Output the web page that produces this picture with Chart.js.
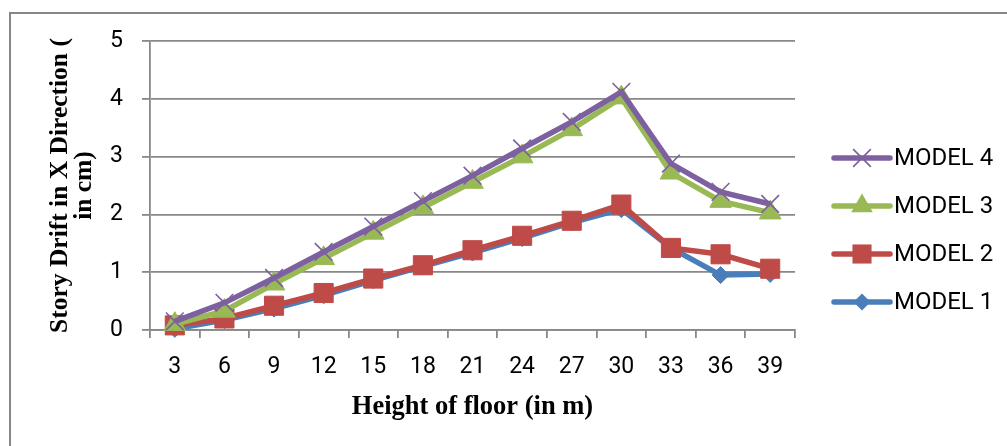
<!DOCTYPE html>
<html>
<head>
<meta charset="utf-8">
<script src="https://cdn.jsdelivr.net/npm/chart.js@4.4.0/dist/chart.umd.min.js"></script>
<style>
  html, body { margin: 0; padding: 0; background: #ffffff; }
  #wrap { width: 1007px; height: 446px; position: relative; }
</style>
</head>
<body>
<div id="wrap"><canvas id="c" width="1007" height="446"></canvas></div>
<script>
const categories = ['3', '6', '9', '12', '15', '18', '21', '24', '27', '30', '33', '36', '39'];
const model1 = [0.02, 0.17, 0.37, 0.60, 0.86, 1.10, 1.34, 1.59, 1.86, 2.09, 1.42, 0.95, 0.97];
const model2 = [0.08, 0.20, 0.42, 0.64, 0.89, 1.12, 1.38, 1.63, 1.89, 2.17, 1.42, 1.31, 1.06];
const model3 = [0.10, 0.33, 0.80, 1.24, 1.68, 2.12, 2.56, 3.00, 3.47, 4.02, 2.72, 2.23, 2.03];
const model4 = [0.15, 0.47, 0.90, 1.35, 1.79, 2.23, 2.67, 3.14, 3.60, 4.12, 2.88, 2.39, 2.18];
const seriesNames = ['MODEL 4', 'MODEL 3', 'MODEL 2', 'MODEL 1'];
const yTitle = ['Story Drift in X Direction (', 'in cm)'];
const xTitle = 'Height of floor (in m)';

const GRID = '#888888';

function ds(label, data, color, style, radius, bw) {
  return {
    label: label, data: data,
    borderColor: color, backgroundColor: color,
    borderWidth: 5.5,
    pointStyle: style, pointRadius: radius, pointHoverRadius: radius,
    pointBackgroundColor: color, pointBorderColor: color, pointBorderWidth: bw,
    tension: 0, clip: false
  };
}

const datasets = [
  ds(seriesNames[0], model4, '#7d60a0', 'crossRot', 12.5, 1.6),
  ds(seriesNames[1], model3, '#98b954', 'triangle', 12.5, 1),
  ds(seriesNames[2], model2, '#be4b48', 'rect', 13.5, 1),
  ds(seriesNames[3], model1, '#4a7ebb', 'rectRot', 8.5, 1)
];

function drawMarker(ctx, style, r, x, y, color, bw) {
  ctx.save();
  ctx.fillStyle = color; ctx.strokeStyle = color; ctx.lineWidth = bw;
  ctx.beginPath();
  if (style === 'crossRot') {
    const o = Math.SQRT1_2 * r;
    ctx.moveTo(x - o, y - o); ctx.lineTo(x + o, y + o);
    ctx.moveTo(x + o, y - o); ctx.lineTo(x - o, y + o);
    ctx.stroke();
  } else if (style === 'triangle') {
    ctx.moveTo(x, y - r);
    ctx.lineTo(x + r * Math.cos(Math.PI / 6), y + r / 2);
    ctx.lineTo(x - r * Math.cos(Math.PI / 6), y + r / 2);
    ctx.closePath(); ctx.fill();
  } else if (style === 'rect') {
    const s = Math.SQRT1_2 * r;
    ctx.rect(x - s, y - s, 2 * s, 2 * s); ctx.fill();
  } else {
    ctx.moveTo(x, y - r); ctx.lineTo(x + r, y); ctx.lineTo(x, y + r); ctx.lineTo(x - r, y);
    ctx.closePath(); ctx.fill();
  }
  ctx.restore();
}

const framePlugin = {
  id: 'frame',
  beforeDraw(chart) {
    const ctx = chart.ctx;
    ctx.save();
    ctx.fillStyle = '#ffffff';
    ctx.fillRect(0, 0, chart.width, chart.height);
    ctx.strokeStyle = '#878787';
    ctx.lineWidth = 2;
    ctx.strokeRect(10, 13, 1200, 1000);
    ctx.restore();
  }
};

const legendPlugin = {
  id: 'lineLegend',
  afterDraw(chart) {
    const ctx = chart.ctx;
    const ys = [158, 206, 254, 302];
    const x0 = 834, x1 = 890;
    chart.data.datasets.forEach((d, i) => {
      const y = ys[i];
      ctx.save();
      ctx.strokeStyle = d.borderColor;
      ctx.lineWidth = 5.5;
      ctx.lineCap = 'round';
      ctx.beginPath(); ctx.moveTo(x0, y); ctx.lineTo(x1, y); ctx.stroke();
      ctx.restore();
      drawMarker(ctx, d.pointStyle, d.pointRadius, (x0 + x1) / 2, y, d.pointBackgroundColor, d.pointBorderWidth);
      ctx.save();
      ctx.fillStyle = '#000000';
      ctx.font = '24px Roboto';
      ctx.textAlign = 'left';
      ctx.textBaseline = 'middle';
      ctx.fillText(d.label, 894, y + 1);
      ctx.restore();
    });
  }
};

new Chart(document.getElementById('c'), {
  type: 'line',
  data: { labels: categories, datasets: datasets },
  plugins: [framePlugin, legendPlugin],
  options: {
    responsive: false,
    animation: false,
    events: [],
    layout: { padding: { top: 41, right: 212, left: 0, bottom: 0 } },
    plugins: { legend: { display: false }, tooltip: { enabled: false } },
    scales: {
      x: {
        type: 'category',
        offset: true,
        afterFit(scale) { scale.height = 116; },
        grid: { offset: true, drawOnChartArea: false, drawTicks: true, tickLength: 8, color: GRID, lineWidth: 1.8 },
        border: { display: true, color: GRID, width: 1.8 },
        ticks: { color: '#000000', font: { family: 'Roboto', size: 23 }, padding: 15, maxRotation: 0, autoSkip: false },
        title: {
          display: true, text: xTitle, color: '#000000',
          font: { family: '"Liberation Serif", "Times New Roman", serif', size: 26.5, weight: 'bold', lineHeight: 1.2 },
          padding: { top: 0, bottom: 23 }
        }
      },
      y: {
        min: 0, max: 5,
        afterFit(scale) { scale.width = 150; },
        grid: { drawTicks: true, tickLength: 8, color: GRID, lineWidth: 1.8 },
        border: { display: true, color: GRID, width: 1.8 },
        ticks: { stepSize: 1, color: '#000000', font: { family: 'Roboto', size: 23 }, padding: 19 },
        title: {
          display: true, text: yTitle, color: '#000000',
          font: { family: '"Liberation Serif", "Times New Roman", serif', size: 25.5, weight: 'bold', lineHeight: 0.95 },
          padding: { top: 48, bottom: 0 }
        }
      }
    }
  }
});
</script>
</body>
</html>
